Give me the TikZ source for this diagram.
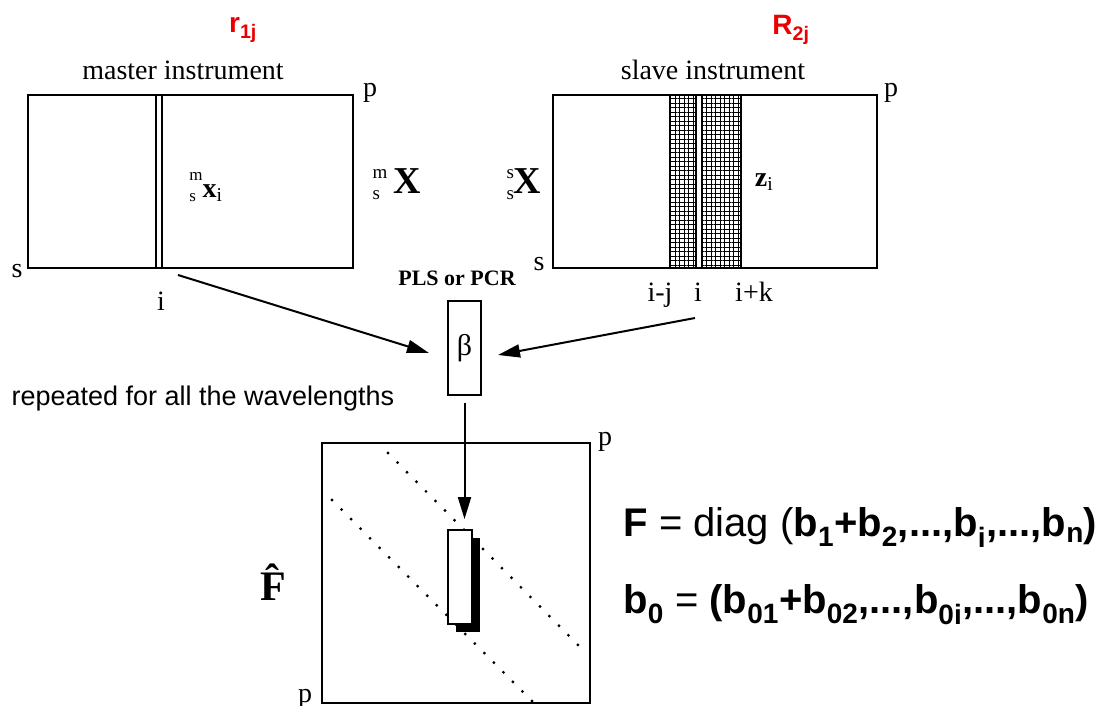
\documentclass[tikz,border=0pt]{standalone}
\usepackage{fontspec}
\usepackage{amsmath}
\setmainfont{Liberation Sans}
\newfontfamily\tms{Liberation Serif}
\usetikzlibrary{arrows.meta,patterns.meta,shadows}
\definecolor{lblred}{RGB}{235,0,0}
\newcommand{\scrstack}[3]{\raisebox{-#3}{\fontsize{#1}{21}\selectfont\begin{tabular}[b]{@{}l@{}}#2\end{tabular}}}

\begin{document}
\begin{tikzpicture}[x=1pt,y=-1pt,
    mat/.style={draw,line width=2.4pt},
    band/.style={draw,line width=2.4pt,pattern={Hatch[distance=4.5pt,line width=0.8pt]}},
    serif/.style={font=\tms\fontsize{28}{30}\selectfont},
    bigx/.style={font=\tms\fontsize{38}{40}\selectfont},
    red lbl/.style={text=lblred,font=\fontsize{28}{30}\selectfont},
    eqn/.style={anchor=base west,font=\fontsize{40}{44}\selectfont},
    arr/.style={line width=2pt,-{Triangle[length=22pt,width=13pt]}},
    diagdots/.style={line width=3.2pt,line cap=round,dash pattern=on 0pt off 13.5pt}]
  \useasboundingbox (0,0) rectangle (1118,706);

  % labels on top
  \node[red lbl,anchor=base] (rone) at (243,33) {\textbf{r}\textsubscript{\textbf{1j}}};
  \node[red lbl,anchor=base] (rtwo) at (791,35) {\textbf{R}\textsubscript{\textbf{2j}}};
  \node[serif,anchor=base] (mlabel) at (183,80) {master instrument};
  \node[serif,anchor=base] (slabel) at (713,80) {slave instrument};

  % master instrument matrix
  \draw[mat] (28,95) rectangle (353,268);
  \draw[line width=2pt] (156,95) -- (156,268) (162,95) -- (162,268);
  \node[serif,anchor=base] (mp) at (370,97) {p};
  \node[serif,anchor=base] (ms) at (17,277) {s};
  \node[serif,anchor=base] (mi) at (161,310) {i};
  \node[serif,anchor=base] (mxi) at (206,197) {\scrstack{17}{m\\s}{4pt}\textbf{x}\textsubscript{i}};
  \node[bigx,anchor=base] (mX) at (397,193) {\scrstack{19}{m\\s}{6pt}\,\textbf{X}};

  % slave instrument matrix
  \draw[mat] (553,95) rectangle (877,268);
  \draw[band] (670,95) rectangle (696,268);
  \draw[band] (702,95) rectangle (741,268);
  \node[serif,anchor=base] (sp) at (891,97) {p};
  \node[serif,anchor=base] (ss) at (539,270) {s};
  \node[bigx,anchor=base] (sX) at (524,193) {\scrstack{19}{s\\s}{6pt}\textbf{X}};
  \node[serif,anchor=base] (zi) at (764,186) {\textbf{z}\textsubscript{i}};
  \node[serif,anchor=base] (sij) at (660,301) {i-j};
  \node[serif,anchor=base] (si) at (698,301) {i};
  \node[serif,anchor=base] (sik) at (754,301) {i+k};

  % regression vector
  \node[serif,anchor=base,font=\tms\bfseries\fontsize{22}{24}\selectfont] (plsr) at (457,285) {PLS or PCR};
  \node[draw,line width=2pt,minimum width=33,minimum height=94,font=\tms\fontsize{30}{32}\selectfont] (beta) at (464.5,348) {β};
  \coordinate (mtail) at (178,275);
  \coordinate (stail) at (695,318);
  \draw[arr] (mtail) -- ([xshift=-18pt,yshift=-5pt]beta.west);
  \draw[arr] (stail) -- ([xshift=16pt,yshift=-7pt]beta.east);

  \node[anchor=base west,font=\fontsize{27}{29}\selectfont] (rep) at (8,405) {repeated for all the wavelengths};

  % transfer matrix
  \draw[mat] (322,443) rectangle (590,703);
  \draw[diagdots] (388,453) -- (578,645);
  \draw[diagdots] (332,500) -- (533,702);
  \node[draw,fill=white,line width=1.8pt,minimum width=24,minimum height=94,
        drop shadow={shadow xshift=8pt,shadow yshift=-8pt,fill=black,opacity=1}] (fbox) at (460,577) {};
  \draw[arr] (beta.south) -- (beta.south |- fbox.north) [shorten <=7pt,shorten >=10pt];
  \node[serif,anchor=base] (fp) at (605,445) {p};
  \node[serif,anchor=base] (fpb) at (305,702) {p};
  \node[anchor=base,font=\tms\bfseries\fontsize{42}{44}\selectfont] (fhat) at (273,600) {\^F};

  % equations
  \node[eqn] (eqf) at (620,536) {\textbf{F} = diag (\textbf{b\textsubscript{1}+b\textsubscript{2},...,b\textsubscript{i},...,b\textsubscript{n})}};
  \node[eqn] (eqb) at (620,613) {\textbf{b\textsubscript{0}} = \textbf{(b\textsubscript{01}+b\textsubscript{02},...,b\textsubscript{0i},...,b\textsubscript{0n})}};
\end{tikzpicture}
\end{document}
